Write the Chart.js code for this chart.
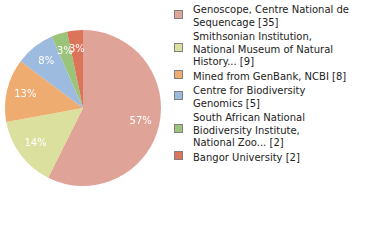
<!DOCTYPE html>
<html>
<head>
<meta charset="utf-8">
<script src="https://cdn.jsdelivr.net/npm/chart.js@4/dist/chart.umd.min.js"></script>
<style>
  body{margin:0;background:#fff;width:380px;height:240px;overflow:hidden;position:relative;font-family:"DejaVu Sans",sans-serif;}
  #pieBox{position:absolute;left:5px;top:30px;width:156px;height:156px;}
  #legend{position:absolute;left:174px;top:4px;width:200px;font-size:10px;line-height:12.5px;color:#222;}
  .item{display:flex;align-items:center;margin-bottom:2px;}
  .box{width:7px;height:7px;border:1px solid #808080;margin-right:10px;flex:none;position:relative;top:-2px;}
</style>
</head>
<body>
<div id="pieBox"><canvas id="pie"></canvas></div>
<div id="legend"></div>
<script>
// data
const labels=[
  ['Genoscope, Centre National de','Sequencage'],
  ['Smithsonian Institution,','National Museum of Natural','History...'],
  ['Mined from GenBank, NCBI'],
  ['Centre for Biodiversity','Genomics'],
  ['South African National','Biodiversity Institute,','National Zoo...'],
  ['Bangor University']
];
const counts=[35,9,8,5,2,2];
const colors=['#E0A398','#DCE09E','#EFAC70','#9DBADF','#9AC47A','#DC7459'];

const total=counts.reduce((a,b)=>a+b,0);

// percent labels inside the slices (percent is truncated, like the original)
const pctLabels={
  id:'pctLabels',
  afterDatasetsDraw(chart){
    const c=chart.ctx;
    const arcs=chart.getDatasetMeta(0).data;
    c.save();
    c.fillStyle='#fff';
    c.font='10px "DejaVu Sans", sans-serif';
    c.textAlign='center';
    c.textBaseline='middle';
    arcs.forEach((arc,i)=>{
      const p=arc.getProps(['x','y','startAngle','endAngle','outerRadius'],true);
      const mid=(p.startAngle+p.endAngle)/2;
      const r=p.outerRadius*0.76;
      const pct=Math.floor(counts[i]/total*100)+'%';
      c.fillText(pct,p.x+Math.cos(mid)*r,p.y+Math.sin(mid)*r);
    });
    c.restore();
  }
};

const ctx=document.getElementById('pie').getContext('2d');
const pie=new Chart(ctx,{
  type:'pie',
  data:{
    labels:labels.map(l=>l.join(' ')),
    datasets:[{data:counts,backgroundColor:colors,borderWidth:0}]
  },
  options:{
    responsive:true,
    maintainAspectRatio:false,
    animation:false,
    layout:{padding:0},
    plugins:{legend:{display:false},tooltip:{enabled:false}}
  },
  plugins:[pctLabels]
});

// html legend, lines kept as in the picture
const legend=document.getElementById('legend');
labels.forEach((lines,i)=>{
  const item=document.createElement('div');
  item.className='item';
  const box=document.createElement('span');
  box.className='box';
  box.style.background=colors[i];
  const txt=document.createElement('div');
  const ls=lines.slice();
  ls[ls.length-1]+=' ['+counts[i]+']';
  txt.innerHTML=ls.join('<br>');
  item.appendChild(box);
  item.appendChild(txt);
  legend.appendChild(item);
});
</script>
</body>
</html>
